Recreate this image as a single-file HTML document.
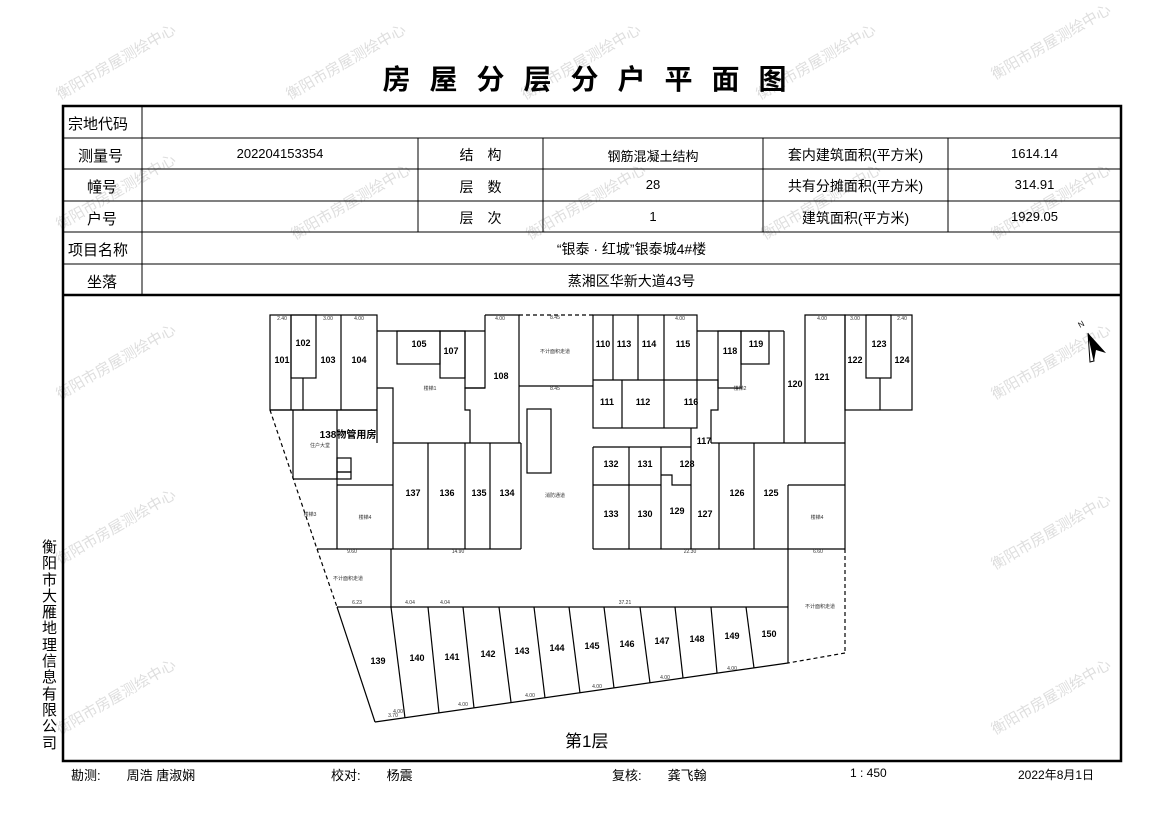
<!DOCTYPE html>
<html><head><meta charset="utf-8"><style>
html,body{margin:0;padding:0;background:#fff;}
body{width:1169px;height:827px;position:relative;overflow:hidden;font-family:"Liberation Sans","Noto Sans CJK SC",sans-serif;}
.t{position:absolute;white-space:nowrap;color:#000;}
</style></head><body>
<svg width="1169" height="827" style="position:absolute;left:0;top:0" font-family="Liberation Sans, Noto Sans CJK SC, sans-serif">
<g fill="#d6d6d6" font-size="15" opacity="0.8">
<text transform="translate(60,100) rotate(-30)">衡阳市房屋测绘中心</text>
<text transform="translate(290,100) rotate(-30)">衡阳市房屋测绘中心</text>
<text transform="translate(525,100) rotate(-30)">衡阳市房屋测绘中心</text>
<text transform="translate(760,100) rotate(-30)">衡阳市房屋测绘中心</text>
<text transform="translate(995,80) rotate(-30)">衡阳市房屋测绘中心</text>
<text transform="translate(60,230) rotate(-30)">衡阳市房屋测绘中心</text>
<text transform="translate(295,240) rotate(-30)">衡阳市房屋测绘中心</text>
<text transform="translate(530,240) rotate(-30)">衡阳市房屋测绘中心</text>
<text transform="translate(765,240) rotate(-30)">衡阳市房屋测绘中心</text>
<text transform="translate(995,240) rotate(-30)">衡阳市房屋测绘中心</text>
<text transform="translate(60,400) rotate(-30)">衡阳市房屋测绘中心</text>
<text transform="translate(995,400) rotate(-30)">衡阳市房屋测绘中心</text>
<text transform="translate(60,565) rotate(-30)">衡阳市房屋测绘中心</text>
<text transform="translate(995,570) rotate(-30)">衡阳市房屋测绘中心</text>
<text transform="translate(60,735) rotate(-30)">衡阳市房屋测绘中心</text>
<text transform="translate(995,735) rotate(-30)">衡阳市房屋测绘中心</text>
</g>
<g stroke="#000" fill="none">
<rect x="63" y="106" width="1058" height="655" stroke-width="2.5"/>
<line x1="63" y1="295" x2="1121" y2="295" stroke-width="2.5"/>
<g stroke-width="1">
<line x1="63" y1="138" x2="1121" y2="138"/>
<line x1="63" y1="169" x2="1121" y2="169"/>
<line x1="63" y1="201" x2="1121" y2="201"/>
<line x1="63" y1="232" x2="1121" y2="232"/>
<line x1="63" y1="264" x2="1121" y2="264"/>
<line x1="142" y1="106" x2="142" y2="295"/>
<line x1="418" y1="138" x2="418" y2="232"/>
<line x1="543" y1="138" x2="543" y2="232"/>
<line x1="763" y1="138" x2="763" y2="232"/>
<line x1="948" y1="138" x2="948" y2="232"/>
</g>
</g>
<g stroke="#000" fill="none" stroke-width="1.2">
<rect x="270" y="315" width="107" height="95"/>
<line x1="291" y1="315" x2="291" y2="410"/>
<rect x="291" y="315" width="25" height="63"/>
<line x1="341" y1="315" x2="341" y2="410"/>
<line x1="303" y1="378" x2="303" y2="410"/>
<polyline points="377,331 485,331"/>
<rect x="397" y="331" width="43" height="33"/>
<rect x="440" y="331" width="25" height="47"/>
<polyline points="465,331 465,388 485,388"/>
<polyline points="485,315 519,315 519,443"/>
<polyline points="485,315 485,388 465,388 465,410 470,410 470,443"/>
<polyline points="377,388 393,388 393,443"/>
<line x1="377" y1="410" x2="377" y2="443"/>
<line x1="519" y1="315" x2="593" y2="315" stroke-dasharray="4,3"/>
<line x1="519" y1="386" x2="593" y2="386"/>
<rect x="593" y="315" width="104" height="113"/>
<line x1="593" y1="380" x2="697" y2="380"/>
<line x1="613" y1="315" x2="613" y2="380"/>
<line x1="638" y1="315" x2="638" y2="380"/>
<line x1="664" y1="315" x2="664" y2="428"/>
<line x1="622" y1="380" x2="622" y2="428"/>
<polyline points="697,331 784,331"/>
<rect x="718" y="331" width="23" height="57"/>
<rect x="741" y="331" width="28" height="33"/>
<polyline points="697,380 718,380 718,410 711,410 711,443"/>
<line x1="784" y1="331" x2="784" y2="443"/>
<polyline points="805,443 805,315 845,315 845,410"/>
<rect x="845" y="315" width="67" height="95"/>
<rect x="866" y="315" width="25" height="63"/>
<line x1="880" y1="378" x2="880" y2="410"/>
<line x1="845" y1="410" x2="845" y2="443"/>
<rect x="527" y="409" width="24" height="64"/>
<line x1="393" y1="443" x2="521" y2="443"/>
<line x1="521" y1="443" x2="521" y2="549"/>
<line x1="428" y1="443" x2="428" y2="549"/>
<line x1="465" y1="443" x2="465" y2="549"/>
<line x1="490" y1="443" x2="490" y2="549"/>
<line x1="317" y1="549" x2="521" y2="549"/>
<line x1="270" y1="410" x2="377" y2="410"/>
<line x1="293" y1="410" x2="293" y2="479"/>
<line x1="293" y1="479" x2="337" y2="479"/>
<line x1="337" y1="410" x2="337" y2="549"/>
<line x1="337" y1="485" x2="393" y2="485"/>
<line x1="393" y1="443" x2="393" y2="549"/>
<rect x="337" y="458" width="14" height="14"/>
<rect x="337" y="472" width="14" height="7"/>
<line x1="593" y1="447" x2="691" y2="447"/>
<line x1="754" y1="443" x2="845" y2="443"/>
<line x1="711" y1="443" x2="754" y2="443"/>
<line x1="593" y1="447" x2="593" y2="549"/>
<line x1="593" y1="485" x2="661" y2="485"/>
<line x1="629" y1="447" x2="629" y2="549"/>
<line x1="661" y1="447" x2="661" y2="549"/>
<line x1="691" y1="428" x2="691" y2="549"/>
<line x1="719" y1="443" x2="719" y2="549"/>
<line x1="754" y1="443" x2="754" y2="549"/>
<line x1="788" y1="485" x2="845" y2="485"/>
<line x1="845" y1="443" x2="845" y2="549"/>
<polyline points="661,475 672,475 672,485 691,485"/>
<line x1="593" y1="549" x2="845" y2="549"/>
<line x1="391" y1="549" x2="391" y2="607"/>
<line x1="788" y1="485" x2="788" y2="663"/>
<line x1="337" y1="607" x2="788" y2="607"/>
<polyline points="270,410 317,549" stroke-dasharray="4,3"/>
<polyline points="317,549 337,607" stroke-dasharray="4,3"/>
<line x1="337" y1="607" x2="375" y2="722"/>
<line x1="845" y1="549" x2="845" y2="653" stroke-dasharray="4,3"/>
<line x1="845" y1="653" x2="788" y2="663" stroke-dasharray="4,3"/>
<line x1="375" y1="722" x2="788" y2="663"/>
<line x1="391" y1="607" x2="405" y2="718"/>
<line x1="428" y1="607" x2="439" y2="713"/>
<line x1="463" y1="607" x2="474" y2="708"/>
<line x1="499" y1="607" x2="511" y2="702"/>
<line x1="534" y1="607" x2="545" y2="698"/>
<line x1="569" y1="607" x2="580" y2="693"/>
<line x1="604" y1="607" x2="614" y2="688"/>
<line x1="640" y1="607" x2="650" y2="683"/>
<line x1="675" y1="607" x2="683" y2="678"/>
<line x1="711" y1="607" x2="717" y2="673"/>
<line x1="746" y1="607" x2="754" y2="668"/>
</g>
<polygon points="1088,333 1106,353 1096,350 1094,361" fill="#000"/>
<polygon points="1088,333 1094,361 1090,362" fill="#fff" stroke="#000"/>
<text x="1080" y="328" font-size="8" transform="rotate(-30,1080,328)">N</text>
<g font-size="9" font-weight="bold" text-anchor="middle">
<text x="282" y="363">101</text><text x="303" y="346">102</text><text x="328" y="363">103</text><text x="359" y="363">104</text>
<text x="419" y="347">105</text><text x="451" y="354">107</text><text x="501" y="379">108</text>
<text x="603" y="347">110</text><text x="624" y="347">113</text><text x="649" y="347">114</text><text x="683" y="347">115</text>
<text x="607" y="405">111</text><text x="643" y="405">112</text><text x="691" y="405">116</text>
<text x="730" y="354">118</text><text x="756" y="347">119</text><text x="795" y="387">120</text><text x="822" y="380">121</text>
<text x="855" y="363">122</text><text x="879" y="347">123</text><text x="902" y="363">124</text>
<text x="413" y="496">137</text><text x="447" y="496">136</text><text x="479" y="496">135</text><text x="507" y="496">134</text>
<text x="611" y="467">132</text><text x="645" y="467">131</text><text x="687" y="467">128</text>
<text x="611" y="517">133</text><text x="645" y="517">130</text><text x="677" y="514">129</text><text x="705" y="517">127</text>
<text x="737" y="496">126</text><text x="771" y="496">125</text><text x="704" y="444">117</text>
<text x="378" y="664">139</text><text x="417" y="661">140</text><text x="452" y="660">141</text><text x="488" y="657">142</text>
<text x="522" y="654">143</text><text x="557" y="651">144</text><text x="592" y="649">145</text><text x="627" y="647">146</text>
<text x="662" y="644">147</text><text x="697" y="642">148</text><text x="732" y="639">149</text><text x="769" y="637">150</text>
<text x="348" y="438" font-size="10">138物管用房</text>
</g>
<g font-size="5" fill="#333" text-anchor="middle">
<text x="348" y="580">不计面积走道</text><text x="555" y="353">不计面积走道</text><text x="820" y="608">不计面积走道</text>
<text x="555" y="497">消防通道</text><text x="365" y="519">楼梯4</text><text x="817" y="519">楼梯4</text>
<text x="430" y="390">楼梯1</text><text x="740" y="390">楼梯2</text><text x="320" y="447">住户大堂</text><text x="310" y="516">楼梯3</text>
<text x="282" y="320">2.40</text><text x="328" y="320">3.00</text><text x="359" y="320">4.00</text><text x="500" y="320">4.00</text><text x="555" y="319">8.45</text>
<text x="555" y="390">8.45</text><text x="680" y="320">4.00</text><text x="822" y="320">4.00</text><text x="855" y="320">3.00</text><text x="902" y="320">2.40</text>
<text x="352" y="553">9.60</text><text x="458" y="553">14.90</text><text x="690" y="553">22.30</text><text x="818" y="553">6.60</text>
<text x="625" y="604">37.21</text><text x="357" y="604">6.23</text><text x="410" y="604">4.04</text><text x="445" y="604">4.04</text>
<text x="398" y="713">4.00</text><text x="463" y="706">4.00</text><text x="530" y="697">4.00</text><text x="597" y="688">4.00</text><text x="665" y="679">4.00</text><text x="732" y="670">4.00</text><text x="393" y="717">3.70</text>
</g>
</svg>
<div class="t" style="left:0;width:1169px;top:58px;text-align:center;font-size:28px;font-weight:bold;letter-spacing:19px;padding-left:19px;box-sizing:border-box;">房屋分层分户平面图</div>
<div class="t" style="left:68px;top:113px;font-size:15px;">宗地代码</div>
<div class="t" style="left:78px;top:145px;font-size:15px;">测量号</div>
<div class="t" style="left:87px;top:176px;font-size:15px;">幢号</div>
<div class="t" style="left:87px;top:208px;font-size:15px;">户号</div>
<div class="t" style="left:68px;top:239px;font-size:15px;">项目名称</div>
<div class="t" style="left:87px;top:271px;font-size:15px;">坐落</div>
<div class="t" style="left:142px;width:276px;top:146px;text-align:center;font-size:13px;">202204153354</div>
<div class="t" style="left:418px;width:125px;top:145px;text-align:center;font-size:14px;">结　构</div>
<div class="t" style="left:418px;width:125px;top:177px;text-align:center;font-size:14px;">层　数</div>
<div class="t" style="left:418px;width:125px;top:208px;text-align:center;font-size:14px;">层　次</div>
<div class="t" style="left:543px;width:220px;top:146px;text-align:center;font-size:13px;">钢筋混凝土结构</div>
<div class="t" style="left:543px;width:220px;top:177px;text-align:center;font-size:13px;">28</div>
<div class="t" style="left:543px;width:220px;top:209px;text-align:center;font-size:13px;">1</div>
<div class="t" style="left:763px;width:185px;top:145px;text-align:center;font-size:14px;">套内建筑面积(平方米)</div>
<div class="t" style="left:763px;width:185px;top:176px;text-align:center;font-size:14px;">共有分摊面积(平方米)</div>
<div class="t" style="left:763px;width:185px;top:208px;text-align:center;font-size:14px;">建筑面积(平方米)</div>
<div class="t" style="left:948px;width:173px;top:146px;text-align:center;font-size:13px;">1614.14</div>
<div class="t" style="left:948px;width:173px;top:177px;text-align:center;font-size:13px;">314.91</div>
<div class="t" style="left:948px;width:173px;top:209px;text-align:center;font-size:13px;">1929.05</div>
<div class="t" style="left:142px;width:979px;top:239px;text-align:center;font-size:14px;">“银泰 · 红城”银泰城4#楼</div>
<div class="t" style="left:142px;width:979px;top:271px;text-align:center;font-size:14px;">蒸湘区华新大道43号</div>
<div class="t" style="left:565px;top:727px;font-size:17px;">第1层</div>
<div class="t" style="left:42px;top:540px;width:16px;font-size:15px;line-height:16.3px;white-space:normal;">衡阳市大雁地理信息有限公司</div>
<div class="t" style="left:71px;top:765px;font-size:13px;">勘测:　　周浩 唐淑娴</div>
<div class="t" style="left:331px;top:765px;font-size:13px;">校对:　　杨震</div>
<div class="t" style="left:612px;top:765px;font-size:13px;">复核:　　龚飞翰</div>
<div class="t" style="left:850px;top:766px;font-size:12px;">1 : 450</div>
<div class="t" style="left:1018px;top:766px;font-size:12px;">2022年8月1日</div>
</body></html>
